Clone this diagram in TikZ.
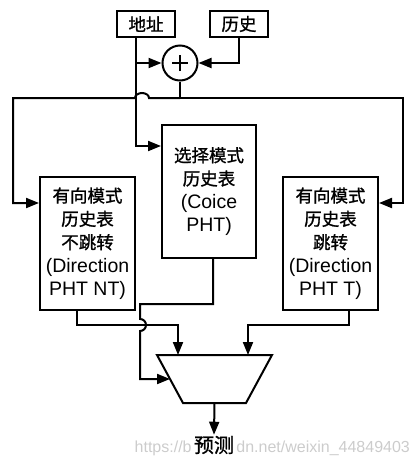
\documentclass[tikz,border=0pt]{standalone}
\usepackage{fontspec}
\setmainfont{Liberation Sans}
\newfontfamily\cjk[FakeBold=1.2]{Noto Sans CJK SC}
\usetikzlibrary{arrows.meta}
\newcommand\zh[1]{{\cjk\fontsize{17.5}{23.3}\selectfont #1}}
\tikzset{
  box/.style={draw, line width=2pt, inner sep=0pt, align=center,
    font=\fontsize{19.5}{23.3}\selectfont},
  tbox/.style={box, minimum width=58pt, minimum height=26pt},
  bigbox/.style={box, minimum width=95pt, minimum height=133pt},
  wire/.style={line width=2pt},
  arr/.style={wire, -{Triangle[length=13pt,width=10pt]}},
  wmark/.style={text=black!20, font=\fontsize{16}{18}\selectfont, inner sep=0pt},
}
\begin{document}
\begin{tikzpicture}[x=1pt,y=-1pt]
\useasboundingbox (0,0) rectangle (416,464);

% top inputs
\node[tbox] (addr) at (146,24) {\zh{地址}};
\node[tbox] (hist) at (239,24) {\zh{历史}};
\node[circle, draw, line width=2pt, minimum size=35pt, inner sep=0pt] (xor) at (180,63) {};
\draw[line width=2.2pt] ([xshift=-8pt]xor.center) -- ([xshift=8pt]xor.center)
  ([yshift=-8pt]xor.center) -- ([yshift=8pt]xor.center);

% tables
\node[bigbox, minimum width=94pt] (choice) at (209,191.5) {\zh{选择模式}\\ \zh{历史表}\\ (Coice\\ PHT)};
\node[bigbox] (nt) at (87.5,243.5) {\zh{有向模式}\\ \zh{历史表}\\ \zh{不跳转}\\ (Direction\\ PHT NT)};
\node[bigbox] (tk) at (330.5,243.5) {\zh{有向模式}\\ \zh{历史表}\\ \zh{跳转}\\ (Direction\\ PHT T)};

% mux (trapezoid)
\coordinate (mTL) at (157,355);
\coordinate (mTR) at (272,355);
\coordinate (mBR) at (246,403);
\coordinate (mBL) at (183,403);
\draw[wire, line join=miter] (mTL) -- (mTR) -- (mBR) -- (mBL) -- cycle;
\coordinate (mB) at (214.5,403);
\coordinate (mL) at (170,379);
\coordinate (mIn1) at (178,355);
\coordinate (mIn2) at (248,355);

% output label and visible parts of the watermark
\node[font=\fontsize{20}{22}\selectfont\cjk, inner sep=1pt] (pred) at (214,445) {预测};
\node[wmark, anchor=base east] (wm1) at ([xshift=-1pt]pred.west |- 0,452) {https://b};
\node[wmark, anchor=base west] (wm2) at ([xshift=1pt]pred.east |- 0,452) {dn.net/weixin\_44849403};

% address tap
\coordinate (tap) at ([xshift=-10pt]addr.south);
\draw[arr] (tap) |- (xor.west);
\draw[arr] (tap) |- ([yshift=-22pt]choice.north west);
\draw[arr] (hist.south) |- (xor.east);

% xor output distribution
\coordinate (j) at (xor.south |- 0,98);
\coordinate (jl) at (13,98);
\coordinate (jr) at (403,98);
\draw[wire] (xor.south) -- (j);
\draw[arr] (j) -- (149,98) arc[start angle=0, end angle=180, x radius=7pt, y radius=5pt]
  -- (jl) |- ([yshift=-27pt]nt.north west);
\draw[arr] (j) -- (jr) |- ([yshift=-27pt]tk.north east);

% choice output to mux select
\coordinate (cs) at ([xshift=4pt]choice.south);
\draw[arr] (cs) -- (cs |- 0,304) -- (140,304) -- (140,319)
  arc[start angle=90, end angle=-90, radius=6pt] -- (140,379) -- (mL);

% table outputs into mux
\coordinate (nto) at ([xshift=-10.5pt]nt.south);
\coordinate (tko) at ([xshift=18.5pt]tk.south);
\draw[arr] (nto) |- (mIn1 |- 0,325) -- (mIn1);
\draw[arr] (tko) |- (mIn2 |- 0,325) -- (mIn2);

% mux output
\draw[arr] (mB) -- (pred.north);
\end{tikzpicture}
\end{document}
